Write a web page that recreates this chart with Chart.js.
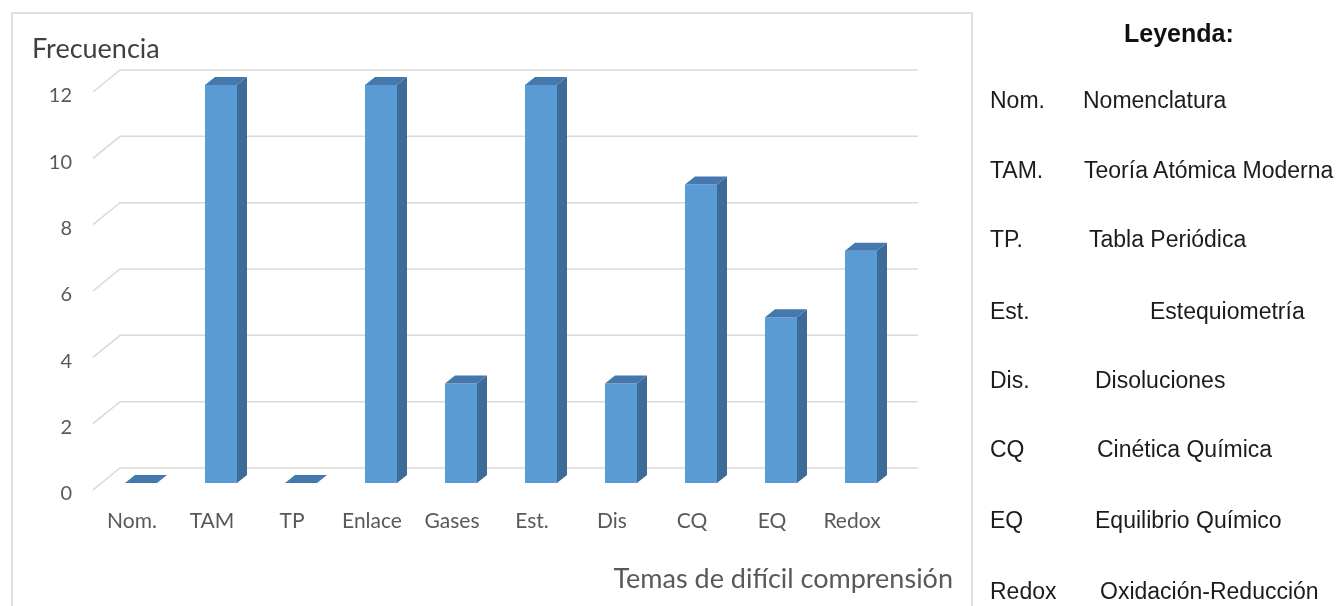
<!DOCTYPE html>
<html>
<head>
<meta charset="utf-8">
<script src="https://cdn.jsdelivr.net/npm/chart.js@4.4.1/dist/chart.umd.min.js"></script>
<style>
  html, body { margin: 0; padding: 0; background: #fff; }
  #wrap { position: relative; width: 1338px; height: 606px; overflow: hidden; }
  #frame { position: absolute; left: 11px; top: 12px; width: 962px; height: 620px; border: 2px solid #e0e0e0; box-sizing: border-box; }
  canvas { position: absolute; left: 0; top: 0; }
  .t { position: absolute; white-space: nowrap; line-height: 1; }
  .ytitle { left: 32px; top: 31px; font: 27px Lato, sans-serif; color: #404040; }
  .xtitle { right: 385px; top: 561px; font: 27px Lato, sans-serif; color: #595959; }
  .leg { font: 23px "Liberation Sans", Arial, sans-serif; color: #1c1c1c; }
  .legtitle { font: bold 25px "Liberation Sans", Arial, sans-serif; color: #111; left: 1124px; top: 19px; }
</style>
</head>
<body>
<div id="wrap">
  <div id="frame"></div>
  <canvas id="chart" width="1338" height="606"></canvas>
  <div class="t ytitle">Frecuencia</div>
  <div class="t xtitle">Temas de difícil comprensión</div>
  <div class="t legtitle">Leyenda:</div>
  <div id="legend"></div>
</div>
<script>
const categories = ['Nom.', 'TAM', 'TP', 'Enlace', 'Gases', 'Est.', 'Dis', 'CQ', 'EQ', 'Redox'];
const frequencies = [0, 12, 0, 12, 3, 12, 3, 9, 5, 7];

const legendAbbr = ['Nom.', 'TAM.', 'TP.', 'Est.', 'Dis.', 'CQ', 'EQ', 'Redox'];
const legendNames = ['Nomenclatura', 'Teoría Atómica Moderna', 'Tabla Periódica', 'Estequiometría',
  'Disoluciones', 'Cinética Química', 'Equilibrio Químico', 'Oxidación-Reducción'];

// legend placement (screen px), kept apart from the data
const legendRowY = [98, 168, 237, 309, 378, 447, 518, 589];
const legendNameX = [1083, 1084, 1089, 1150, 1095, 1097, 1095, 1100];

const legend = document.getElementById('legend');
legendAbbr.forEach((a, i) => {
  const ab = document.createElement('div');
  ab.className = 't leg';
  ab.style.left = '990px';
  ab.style.top = (legendRowY[i] - 11.5) + 'px';
  ab.textContent = a;
  legend.appendChild(ab);
  const nm = document.createElement('div');
  nm.className = 't leg';
  nm.style.left = legendNameX[i] + 'px';
  nm.style.top = (legendRowY[i] - 11.5) + 'px';
  nm.textContent = legendNames[i];
  legend.appendChild(nm);
});

// fake 3D: back wall gridlines, floor slants, side + top faces of the columns
const DX = 10, DY = -8;
const threeD = {
  id: 'threeD',
  beforeDatasetsDraw(chart) {
    const { ctx, chartArea, scales: { y } } = chart;
    ctx.save();
    ctx.strokeStyle = '#d9d9d9';
    ctx.lineWidth = 1.5;
    y.ticks.forEach(t => {
      const py = y.getPixelForValue(t.value);
      ctx.beginPath();
      ctx.moveTo(chartArea.left - 8, py + 7);
      ctx.lineTo(chartArea.left + 19, py - 15);
      ctx.lineTo(chartArea.right + 17, py - 15);
      ctx.stroke();
    });
    ctx.restore();
  },
  afterDatasetsDraw(chart) {
    const { ctx } = chart;
    const meta = chart.getDatasetMeta(0);
    ctx.save();
    meta.data.forEach(bar => {
      const l = bar.x - bar.width / 2, r = bar.x + bar.width / 2;
      const top = bar.y, base = bar.base;
      // side
      ctx.fillStyle = '#3d6b98';
      ctx.beginPath();
      ctx.moveTo(r, top);
      ctx.lineTo(r + DX, top + DY);
      ctx.lineTo(r + DX, base + DY);
      ctx.lineTo(r, base);
      ctx.closePath();
      ctx.fill();
      // top
      ctx.fillStyle = '#4578ad';
      ctx.beginPath();
      ctx.moveTo(l, top);
      ctx.lineTo(r, top);
      ctx.lineTo(r + DX, top + DY);
      ctx.lineTo(l + DX, top + DY);
      ctx.closePath();
      ctx.fill();
    });
    ctx.restore();
  }
};

new Chart(document.getElementById('chart'), {
  type: 'bar',
  data: {
    labels: categories,
    datasets: [{
      data: frequencies,
      backgroundColor: '#5b9bd5',
      borderWidth: 0,
      barPercentage: 0.4,
      categoryPercentage: 1,
    }],
  },
  options: {
    responsive: false,
    animation: false,
    events: [],
    layout: { padding: { top: 85, right: 437, bottom: 0, left: 0 } },
    plugins: { legend: { display: false }, tooltip: { enabled: false } },
    scales: {
      x: {
        grid: { display: false, drawTicks: false },
        border: { display: false },
        ticks: { color: '#595959', font: { family: 'Lato', size: 21 }, padding: 26, labelOffset: -9, maxRotation: 0, autoSkip: false },
        afterFit: s => { s.height = 123; },
      },
      y: {
        min: 0,
        max: 12,
        grid: { display: false, drawTicks: false },
        border: { display: false },
        ticks: { stepSize: 2, color: '#595959', font: { family: 'Lato', size: 20 }, padding: 29, labelOffset: 11 },
        afterFit: s => { s.width = 101; },
      },
    },
  },
  plugins: [threeD],
});
</script>
</body>
</html>
